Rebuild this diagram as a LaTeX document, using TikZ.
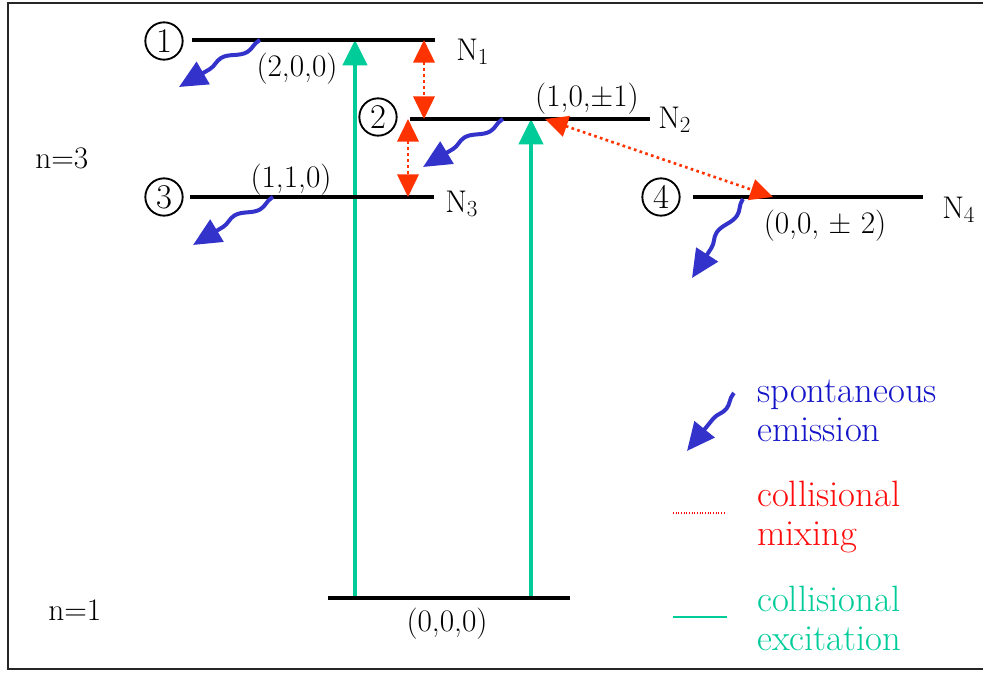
\documentclass[tikz,border=0pt]{standalone}
\usepackage{fontspec}
\usetikzlibrary{arrows.meta,decorations.pathmorphing}
\definecolor{emitblue}{RGB}{51,51,204}
\definecolor{textblue}{RGB}{20,20,200}
\definecolor{mixred}{RGB}{255,51,0}
\definecolor{textred}{RGB}{255,10,10}
\definecolor{excgreen}{RGB}{0,204,153}
\begin{document}
\begin{tikzpicture}[x=0.75pt,y=-0.75pt,
  levelline/.style={line width=3pt, black},
  lab/.style={font=\fontsize{23.5}{26}\selectfont, inner sep=0pt},
  circ/.style={circle, draw, line width=1.4pt, minimum size=28pt, inner sep=0pt,
    font=\fontsize{26}{26}\selectfont},
  legtext/.style={font=\fontsize{27.5}{29}\selectfont, align=left, anchor=base west, inner sep=0pt},
  excite/.style={draw=excgreen, line width=3pt, -{Triangle[length=19pt,width=18pt]}},
  mixing/.style={draw=mixred, line width=2pt, dash pattern=on 2pt off 2.5pt,
    {Triangle[length=17pt,width=16pt]}-{Triangle[length=17pt,width=16pt]}},
  emit/.style={draw=emitblue, line width=3pt, decorate,
    decoration={snake, amplitude=3pt, segment length=38pt, pre length=1pt, post length=20pt},
    -{Triangle[length=21pt,width=19pt]}}
]
\useasboundingbox (0,0) rectangle (983,675);
\draw[line width=1.5pt, black!85] (7.5,2.5) rectangle (1000,668.5);

% level end points
\coordinate (L1a) at (192,40);  \coordinate (L1b) at (435,40);
\coordinate (L2a) at (410,119); \coordinate (L2b) at (650,119);
\coordinate (L3a) at (190,197); \coordinate (L3b) at (434,197);
\coordinate (L4a) at (693,197); \coordinate (L4b) at (923,197);
\coordinate (G0a) at (328,598); \coordinate (G0b) at (570,598);

% excitation arrows
\coordinate (e1top) at (355,40);  \coordinate (e1bot) at (355,598);
\coordinate (e2top) at (531,119); \coordinate (e2bot) at (531,598);
\draw[excite] (e1bot) -- (e1top);
\draw[excite] (e2bot) -- (e2top);

% levels
\draw[levelline] (L1a) -- (L1b);
\draw[levelline] (L2a) -- (L2b);
\draw[levelline] (L3a) -- (L3b);
\draw[levelline] (L4a) -- (L4b);
\draw[levelline] (G0a) -- (G0b);

% mixing arrows
\coordinate (m1top) at (424,40);  \coordinate (m1bot) at (424,119);
\coordinate (m2top) at (408,119); \coordinate (m2bot) at (408,197);
\coordinate (m3a) at (545,119);   \coordinate (m3b) at (773,197);
\draw[mixing] (m1top) -- (m1bot);
\draw[mixing] (m2top) -- (m2bot);
\draw[mixing] (m3a) -- (m3b);

% spontaneous emission
\coordinate (s1) at (260,40);  \coordinate (t1) at (179,87);
\coordinate (s2) at (503,119); \coordinate (t2) at (423,167);
\coordinate (s3) at (273,197); \coordinate (t3) at (193,245);
\coordinate (s4) at (743,199); \coordinate (t4) at (692,278);
\draw[emit] (s1) -- (t1);
\draw[emit] (s2) -- (t2);
\draw[emit] (s3) -- (t3);
\draw[emit] (s4) -- (t4);

% circled numbers
\node[circ] (c1) at (164,41) {1};
\node[circ] (c2) at (378,117) {2};
\node[circ] (c3) at (164,197) {3};
\node[circ] (c4) at (661,197) {4};

% state labels
\node[lab] (q1) at (297,69) {(2,0,0)};
\node[lab] (q2) at (587,99) {(1,0,±1)};
\node[lab] (q3) at (291,180) {(1,1,0)};
\node[lab] (q4) at (825,226) {(0,0, ± 2)};
\node[lab] (q0) at (447,624) {(0,0,0)};

% population labels
\node[lab, anchor=base west] (N1) at (456,60) {N$_1$};
\node[lab, anchor=base west] (N2) at (658,128) {N$_2$};
\node[lab, anchor=base west] (N3) at (445,212) {N$_3$};
\node[lab, anchor=base west] (N4) at (942,218) {N$_4$};

\node[lab, anchor=base west] (n3) at (35,168) {n=3};
\node[lab, anchor=base west] (n1) at (48,620) {n=1};

% legend
\coordinate (sL) at (734,393); \coordinate (tL) at (687,451);
\draw[emit] (sL) -- (tL);
\coordinate (dLa) at (673,513); \coordinate (dLb) at (725,513);
\draw[draw=textred, line width=0.8pt, dash pattern=on 0.8pt off 1.2pt] (dLa) -- (dLb);
\coordinate (gLa) at (673,617); \coordinate (gLb) at (727,617);
\draw[draw=excgreen, line width=1.5pt] (gLa) -- (gLb);

\node[legtext, text=textblue] (leg1) at (757,441) {spontaneous\\emission};
\node[legtext, text=textred] (leg2) at (757,545) {collisional\\mixing};
\node[legtext, text=excgreen] (leg3) at (757,650) {collisional\\excitation};
\end{tikzpicture}
\end{document}
